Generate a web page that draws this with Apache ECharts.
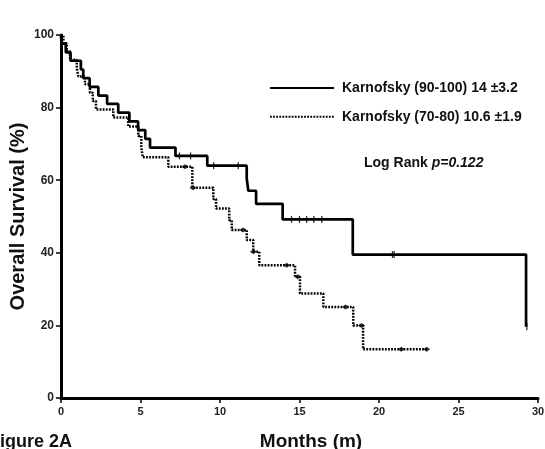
<!DOCTYPE html>
<html>
<head>
<meta charset="utf-8">
<script src="https://cdn.jsdelivr.net/npm/echarts@6/dist/echarts.min.js"></script>
<style>
html, body { margin: 0; padding: 0; background: #fff; }
#view { width: 545px; height: 449px; }
</style>
</head>
<body>
<div id="view"></div>
<script>
var myCharts = echarts.init(document.getElementById("view"));

/* group names (legend) */
var groupNames = ['Karnofsky (90-100) 14 \u00b13.2', 'Karnofsky (70-80) 10.6 \u00b11.9'];

/* Karnofsky 90-100 : event times (months) and survival (%) */
var highTime = [0, 0.03, 0.3, 0.6, 1.25, 1.4, 1.8, 2.35, 2.9, 3.6, 4.3, 4.85, 5.3, 5.6, 7.2, 9.2, 11.68, 11.78, 12.27, 13.94, 18.35, 29.25];
var highSurv = [100, 97.6, 95.2, 92.9, 90.5, 88.1, 85.7, 83.3, 81.0, 78.6, 76.2, 73.8, 71.4, 69.0, 66.7, 64.0, 60.5, 57.1, 53.5, 49.2, 39.5, 19.6];
var highCensorTime = [7.45, 8.15, 9.6, 11.15, 14.5, 15.0, 15.45, 15.9, 16.4, 20.85, 20.95, 29.3];
var highCensorSurv = [66.7, 66.7, 64.0, 64.0, 49.2, 49.2, 49.2, 49.2, 49.2, 39.5, 39.5, 19.6];

/* Karnofsky 70-80 */
var lowTime = [0, 0.15, 0.36, 0.57, 0.99, 1.09, 1.51, 1.82, 2.0, 2.2, 3.29, 4.23, 4.86, 5.05, 5.14, 6.75, 8.26, 9.58, 9.75, 10.58, 10.74, 11.68, 12.09, 12.47, 14.72, 15.03, 16.5, 18.38, 19.0, 23.0];
var lowSurv = [100, 97.7, 95.5, 93.2, 90.9, 88.6, 86.4, 84.1, 81.8, 79.5, 77.3, 74.8, 72.2, 69.2, 66.3, 63.7, 57.9, 54.8, 52.2, 49.0, 46.3, 43.5, 40.3, 36.6, 33.4, 28.8, 25.1, 20.0, 13.4, 13.4];
var lowCensorTime = [7.8, 8.3, 11.45, 12.1, 14.2, 14.9, 17.9, 18.9, 21.4, 23.0];
var lowCensorSurv = [63.7, 57.9, 46.3, 40.3, 36.6, 33.4, 25.1, 20.0, 13.4, 13.4];

function pairs(xs, ys) {
    return xs.map(function (x, i) { return [x, ys[i]]; });
}

var font = '"Liberation Sans", Arial, sans-serif';

option = {
    animation: false,
    grid: { left: 61, right: 7, top: 35, bottom: 51, outerBoundsMode: 'none', containLabel: false },
    legend: {
        data: groupNames,
        orient: 'vertical',
        left: 269,
        top: 81,
        padding: 0,
        itemWidth: 64,
        itemHeight: 14,
        itemGap: 14.7,
        itemStyle: { opacity: 0 },   // line only, no symbol
        textStyle: { fontFamily: font, fontWeight: 'bold', fontSize: 14, color: '#111', padding: [0, 0, 0, 3] }
    },
    xAxis: {
        type: 'value',
        min: 0,
        max: 30,
        interval: 5,
        name: 'Months (m)',
        nameLocation: 'middle',
        nameGap: 34,
        nameMoveOverlap: false,
        nameTextStyle: { fontFamily: font, fontWeight: 'bold', fontSize: 19, color: '#111', padding: [0, 0, 0, 23] },
        axisLine: { lineStyle: { color: '#000', width: 3 } },
        axisTick: { length: 5, lineStyle: { color: '#000', width: 1.5 } },
        axisLabel: { fontFamily: font, fontWeight: 'bold', fontSize: 11, color: '#222', margin: 8 },
        splitLine: { show: false }
    },
    yAxis: {
        type: 'value',
        min: 0,
        max: 100,
        interval: 20,
        name: 'Overall Survival (%)',
        nameLocation: 'middle',
        nameGap: 33,
        nameMoveOverlap: false,
        nameTextStyle: { fontFamily: font, fontWeight: 'bold', fontSize: 20, color: '#111' },
        axisLine: { show: true, lineStyle: { color: '#000', width: 3 } },
        axisTick: { show: true, length: 5, lineStyle: { color: '#000', width: 1.5 } },
        axisLabel: { fontFamily: font, fontWeight: 'bold', fontSize: 12, color: '#222', margin: 7 },
        splitLine: { show: false }
    },
    graphic: [
        {
            type: 'text',
            x: 364,
            y: 156,
            style: {
                text: '{a|Log Rank }{b|p=0.122}',
                rich: {
                    a: { fontFamily: font, fontWeight: 'bold', fontSize: 14, fill: '#111' },
                    b: { fontFamily: font, fontWeight: 'bold', fontStyle: 'italic', fontSize: 14, fill: '#111' }
                }
            }
        },
        {
            type: 'text',
            x: -11,
            y: 433,
            style: { text: 'Figure 2A', font: 'bold 18px ' + font, fill: '#111' }
        }
    ],
    series: [
        {
            name: groupNames[0],
            type: 'line',
            step: 'end',
            symbol: 'none',
            data: pairs(highTime, highSurv),
            lineStyle: { color: '#000', width: 2.7 },
            itemStyle: { color: '#000' }
        },
        {
            name: groupNames[1],
            type: 'line',
            step: 'end',
            symbol: 'none',
            data: pairs(lowTime, lowSurv),
            lineStyle: { color: '#000', width: 2.5, type: [1.8, 1.3] },
            itemStyle: { color: '#000' }
        },
        {
            name: 'censor-high',
            type: 'scatter',
            symbol: 'rect',
            symbolSize: [1.3, 7],
            data: pairs(highCensorTime, highCensorSurv),
            itemStyle: { color: '#000' }
        },
        {
            name: 'censor-low',
            type: 'scatter',
            symbol: 'diamond',
            symbolSize: [7, 5],
            data: pairs(lowCensorTime, lowCensorSurv),
            itemStyle: { color: '#000' }
        }
    ]
};

myCharts.setOption(option);
</script>
</body>
</html>
